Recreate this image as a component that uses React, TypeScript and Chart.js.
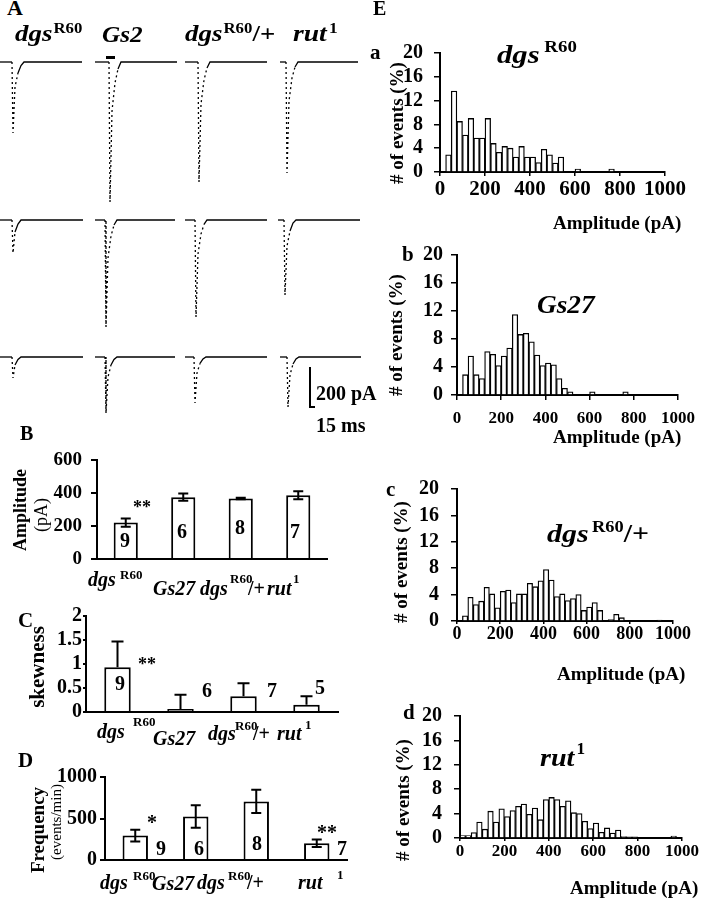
import React, { useEffect, useRef } from "react";
import { Chart, registerables } from "chart.js";

Chart.register(...registerables);

const SERIF = "'Liberation Serif', 'Times New Roman', Times, serif";

// ---------------- data ----------------
const groups = ["dgsR60", "Gs27", "dgsR60/+", "rut1"];

const amplitudeMean = [222, 376, 368, 388];
const amplitudeSem = [25, 22, 4, 25];
const amplitudeN = ["9", "6", "8", "7"];

const skewnessMean = [0.93, 0.06, 0.33, 0.15];
const skewnessSem = [0.54, 0.3, 0.27, 0.18];
const skewnessN = ["9", "6", "7", "5"];

const frequencyMean = [294, 524, 706, 202];
const frequencySem = [70, 135, 140, 45];
const frequencyN = ["9", "6", "8", "7"];

// amplitude histogram bins (pA, bin centers, 25 pA wide)
const binCenters = [
  12.5, 37.5, 62.5, 87.5, 112.5, 137.5, 162.5, 187.5, 212.5, 237.5,
  262.5, 287.5, 312.5, 337.5, 362.5, 387.5, 412.5, 437.5, 462.5, 487.5,
  512.5, 537.5, 562.5, 587.5, 612.5, 637.5, 662.5, 687.5, 712.5, 737.5,
  762.5, 787.5, 812.5, 837.5, 862.5, 887.5, 912.5, 937.5, 962.5, 987.5,
];
const histDgsR60 = [
  0, 2.9, 13.6, 8.5, 6.2, 9.0, 5.7, 5.7, 9.0, 4.8,
  3.3, 4.3, 4.0, 2.5, 4.3, 2.5, 2.5, 1.6, 3.8, 2.9,
  1.5, 2.5, 0, 0, 0.5, 0, 0, 0, 0, 0,
  0.5, 0, 0, 0, 0, 0, 0, 0, 0, 0,
];
const histGs27 = [
  0, 2.9, 5.55, 2.9, 2.35, 6.2, 5.8, 4.2, 5.55, 6.7,
  11.5, 8.65, 8.8, 7.6, 5.7, 4.2, 4.55, 4.3, 2.35, 0.95,
  0.45, 0, 0, 0, 0.45, 0, 0, 0, 0, 0,
  0.45, 0, 0, 0, 0, 0, 0, 0, 0, 0,
];
const histDgsHet = [
  0, 0.8, 3.6, 2.5, 3.0, 5.1, 4.1, 2.0, 4.5, 4.7,
  2.8, 4.1, 4.1, 5.7, 5.2, 6.1, 7.8, 6.2, 3.7, 4.1,
  3.1, 3.4, 4.0, 1.6, 2.1, 2.8, 1.6, 0, 0.2, 1.0,
  0.5, 0, 0, 0, 0, 0, 0, 0.15, 0, 0,
];
const histRut1 = [
  0.4, 0.4, 0.9, 2.6, 1.45, 4.4, 2.6, 4.8, 3.5, 4.5,
  5.2, 5.55, 3.9, 4.9, 3.0, 6.3, 6.65, 6.3, 5.2, 6.1,
  4.15, 4.0, 2.75, 1.55, 2.45, 0.95, 1.65, 0.8, 1.3, 0.25,
  0.2, 0.2, 0, 0, 0, 0, 0, 0, 0.3, 0,
];

// example current traces: [time ms, current pA]
const traceRow1 = [
  [[0, 0], [36, 0], [39, -355], [45, -125], [54, -55], [63, -18], [72, 0], [246, 0]],
  [[285, 0], [327, 0], [330, -700], [336, -245], [345, -105], [354, -35], [363, 0], [531, 0]],
  [[555, 0], [594, 0], [597, -600], [603, -210], [612, -90], [621, -30], [630, 0], [801, 0]],
  [[840, 0], [858, 0], [861, -555], [867, -195], [876, -80], [885, -25], [894, 0], [1074, 0]],
];
const traceRow2 = [
  [[0, 0], [36, 0], [39, -165], [45, -60], [54, -20], [63, 0], [249, 0]],
  [[285, 0], [315, 0], [318, -535], [324, -190], [333, -80], [342, -25], [351, 0], [525, 0]],
  [[555, 0], [585, 0], [588, -485], [594, -170], [603, -70], [612, -22], [621, 0], [801, 0]],
  [[834, 0], [852, 0], [855, -375], [861, -130], [870, -55], [879, -15], [888, 0], [1080, 0]],
];
const traceRow3 = [
  [[0, 0], [36, 0], [39, -105], [45, -40], [54, -12], [63, 0], [249, 0]],
  [[285, 0], [315, 0], [318, -280], [324, -100], [333, -40], [342, -12], [351, 0], [525, 0]],
  [[555, 0], [582, 0], [585, -230], [591, -80], [600, -32], [609, -10], [618, 0], [801, 0]],
  [[840, 0], [861, 0], [864, -250], [870, -90], [879, -35], [888, -10], [897, 0], [1083, 0]],
];
const scaleBarPA = 200;
const scaleBarMs = 15;
const scaleBarAnchor = { t: 930, i: -50 };

// ---------------- helpers ----------------
const errorBarPlugin = {
  id: "errorBars",
  afterDatasetsDraw(chart: any, _args: any, opts: any) {
    const meta = chart.getDatasetMeta(0);
    const ys = chart.scales.y;
    const ctx = chart.ctx;
    ctx.save();
    ctx.strokeStyle = "#000";
    ctx.lineWidth = 2;
    meta.data.forEach((bar: any, i: number) => {
      const m = opts.means[i];
      const s = opts.sems[i];
      const yT = ys.getPixelForValue(m + s);
      const yB = opts.both ? ys.getPixelForValue(m - s) : bar.y;
      const h = opts.cap / 2;
      ctx.beginPath();
      ctx.moveTo(bar.x, yT);
      ctx.lineTo(bar.x, yB);
      ctx.moveTo(bar.x - h, yT);
      ctx.lineTo(bar.x + h, yT);
      if (opts.both) {
        ctx.moveTo(bar.x - h, yB);
        ctx.lineTo(bar.x + h, yB);
      }
      ctx.stroke();
    });
    ctx.restore();
  },
};

function ChartCanvas({ box, build }: any) {
  const ref = useRef<HTMLCanvasElement>(null);
  useEffect(() => {
    const chart = new Chart(ref.current as HTMLCanvasElement, build());
    return () => chart.destroy();
  }, []);
  return (
    <canvas
      ref={ref}
      width={box.w}
      height={box.h}
      style={{ position: "absolute", left: box.x, top: box.y, width: box.w, height: box.h }}
    />
  );
}

const steepDash = (c: any) =>
  Math.abs(c.p1.y - c.p0.y) > 3 * Math.abs(c.p1.x - c.p0.x) ? [2, 3] : undefined;

function traceConfig(rows: number[][][], yMin: number, yMax: number, withScaleBar = false): any {
  const datasets: any[] = rows.map((pts) => ({
    data: pts.map(([x, y]) => ({ x, y })),
    borderColor: "#000",
    borderWidth: 1.3,
    pointRadius: 0,
    tension: 0,
    fill: false,
    segment: { borderDash: steepDash },
  }));
  if (withScaleBar) {
    datasets.push({
      data: [
        { x: scaleBarAnchor.t, y: scaleBarAnchor.i },
        { x: scaleBarAnchor.t, y: scaleBarAnchor.i - scaleBarPA },
        { x: scaleBarAnchor.t + scaleBarMs, y: scaleBarAnchor.i - scaleBarPA },
      ],
      borderColor: "#000",
      borderWidth: 2,
      pointRadius: 0,
      tension: 0,
      fill: false,
    });
  }
  return {
    type: "line",
    data: { datasets },
    options: {
      animation: false,
      responsive: false,
      events: [],
      layout: { padding: 0 },
      plugins: { legend: { display: false }, tooltip: { enabled: false } },
      scales: {
        x: { type: "linear", display: false, min: 0, max: 1095 },
        y: { display: false, min: yMin, max: yMax },
      },
    },
  };
}

function histConfig(values: number[], o: any): any {
  return {
    type: "bar",
    data: {
      datasets: [
        {
          data: binCenters.map((c, i) => ({ x: c, y: values[i] })),
          backgroundColor: "#ffffff",
          borderColor: "#000000",
          borderWidth: 1.3,
          borderSkipped: "start",
          barPercentage: 1,
          categoryPercentage: 1,
        },
      ],
    },
    options: {
      animation: false,
      responsive: false,
      events: [],
      layout: { padding: { top: o.padTop, right: o.padRight, left: 0, bottom: 0 } },
      plugins: { legend: { display: false }, tooltip: { enabled: false } },
      scales: {
        x: {
          type: "linear",
          min: 0,
          max: 1000,
          offset: false,
          grid: { display: true, drawOnChartArea: false, drawTicks: true, tickLength: o.xTl, color: "#000", lineWidth: 1.5, offset: false },
          border: { display: true, color: "#000", width: 2 },
          ticks: {
            stepSize: 200,
            padding: o.xPad,
            color: "#000",
            maxRotation: 0,
            autoSkip: false,
            font: { family: SERIF, size: o.xFont, weight: "bold" },
            callback: (v: any) => String(v),
          },
          afterFit: (s: any) => { s.height = o.xH; },
        },
        y: {
          min: 0,
          max: 20,
          grid: { display: true, drawOnChartArea: false, drawTicks: true, tickLength: 6, color: "#000", lineWidth: 1.5 },
          border: { display: true, color: "#000", width: 2 },
          ticks: {
            stepSize: 4,
            padding: o.yPad,
            color: "#000",
            autoSkip: false,
            font: { family: SERIF, size: 20, weight: "bold" },
            callback: (v: any) => String(v),
          },
          afterFit: (s: any) => { s.width = o.yW; },
        },
      },
    },
  };
}

function barConfig(means: number[], sems: number[], o: any): any {
  return {
    type: "bar",
    data: {
      labels: groups,
      datasets: [
        {
          data: means,
          backgroundColor: o.fills,
          borderColor: "#000",
          borderWidth: 2,
          borderSkipped: "start",
          barPercentage: 0.42,
          categoryPercentage: 1,
        },
      ],
    },
    options: {
      animation: false,
      responsive: false,
      events: [],
      layout: { padding: { top: o.padTop, right: o.padRight, left: 0, bottom: 0 } },
      plugins: {
        legend: { display: false },
        tooltip: { enabled: false },
        errorBars: { means, sems, both: o.both, cap: o.cap },
      },
      scales: {
        x: {
          grid: { display: false },
          border: { display: true, color: "#000", width: 2 },
          ticks: { display: false },
          afterFit: (s: any) => { s.height = o.xH; },
        },
        y: {
          min: 0,
          max: o.yMax,
          grid: { display: true, drawOnChartArea: false, drawTicks: true, tickLength: o.yTl, color: "#000", lineWidth: 2 },
          border: { display: true, color: "#000", width: 2 },
          ticks: {
            stepSize: o.yStep,
            padding: o.yPad,
            color: "#000",
            autoSkip: false,
            font: { family: SERIF, size: o.yFont, weight: "bold" },
            callback: (v: any) => String(v),
          },
          afterFit: (s: any) => { s.width = o.yW; },
        },
      },
    },
    plugins: [errorBarPlugin],
  };
}

function Txt({ x, b, size, it = false, w = "bold", align = "left", sx = 1, children }: any) {
  const style: any = {
    position: "absolute",
    left: x,
    top: b - 0.8375 * size,
    fontSize: size,
    lineHeight: 1,
    fontStyle: it ? "italic" : "normal",
    fontWeight: w,
    whiteSpace: "nowrap",
    fontFamily: SERIF,
  };
  if (align === "center") {
    style.transform = `translateX(-50%) scaleX(${sx})`;
    style.transformOrigin = "center";
  } else if (sx !== 1) {
    style.transform = `scaleX(${sx})`;
    style.transformOrigin = "left";
  }
  return <div style={style}>{children}</div>;
}

function Sup({ size, raise, gap = 0, children }: any) {
  return (
    <span style={{ fontSize: size, position: "relative", top: -raise, fontStyle: "normal", marginLeft: gap }}>
      {children}
    </span>
  );
}

function Rot({ cx, cy, size, w = "bold", children }: any) {
  return (
    <div
      style={{
        position: "absolute",
        left: cx,
        top: cy,
        fontSize: size,
        lineHeight: 1,
        fontWeight: w,
        whiteSpace: "nowrap",
        fontFamily: SERIF,
        transform: "translate(-50%,-50%) rotate(-90deg)",
      }}
    >
      {children}
    </div>
  );
}

// category labels under bar charts: [dgs R60], [Gs27], [dgs R60 /+], [rut 1]
function GroupLabels({ p }: any) {
  return (
    <>
      <Txt x={p.d1} b={p.b1} size={20} it>dgs</Txt>
      <Txt x={p.r1} b={p.s1} size={13}>R60</Txt>
      <Txt x={p.g} b={p.bg} size={20} it>Gs27</Txt>
      <Txt x={p.d3} b={p.b3} size={20} it>dgs</Txt>
      <Txt x={p.r3} b={p.s3} size={13}>R60</Txt>
      <Txt x={p.p3} b={p.b3} size={20}>/+</Txt>
      <Txt x={p.ru} b={p.b4} size={20} it>rut</Txt>
      <Txt x={p.one} b={p.s4} size={13}>1</Txt>
    </>
  );
}

export default function App() {
  return (
    <div
      style={{
        position: "absolute",
        left: 0,
        top: 0,
        width: 703,
        height: 900,
        background: "#fff",
        color: "#000",
        fontFamily: SERIF,
        overflow: "hidden",
      }}
    >
      {/* ---------- Panel A ---------- */}
      <ChartCanvas box={{ x: 0, y: 40, w: 365, h: 180 }} build={() => traceConfig(traceRow1, -790, 110)} />
      <ChartCanvas box={{ x: 0, y: 200, w: 365, h: 140 }} build={() => traceConfig(traceRow2, -600, 100)} />
      <ChartCanvas box={{ x: 0, y: 335, w: 365, h: 90 }} build={() => traceConfig(traceRow3, -340, 110, true)} />

      <Txt x={7} b={15} size={22}>A</Txt>
      <Txt x={15} b={41} size={24} it sx={1.12}>dgs<Sup size={15} raise={8} gap={1}>R60</Sup></Txt>
      <Txt x={102} b={42} size={24} it sx={1.05}>Gs2</Txt>
      <div style={{ position: "absolute", left: 106, top: 56, width: 9, height: 3, background: "#000" }} />
      <Txt x={185} b={41} size={24} it sx={1.12}>dgs<Sup size={15} raise={8} gap={1}>R60</Sup><span style={{ fontStyle: "normal" }}>/+</span></Txt>
      <Txt x={293} b={41} size={24} it sx={1.15}>rut<Sup size={15} raise={8} gap={2}>1</Sup></Txt>
      <Txt x={316} b={400} size={20}>200 pA</Txt>
      <Txt x={316} b={432} size={20}>15 ms</Txt>

      {/* ---------- Panel B ---------- */}
      <ChartCanvas
        box={{ x: 0, y: 440, w: 345, h: 160 }}
        build={() =>
          barConfig(amplitudeMean, amplitudeSem, {
            fills: ["#fff", "#fff", "#fff", "#fff"],
            both: true, cap: 10, yMax: 600, yStep: 200, yFont: 19, yTl: 6, yPad: 9,
            yW: 97, xH: 41, padTop: 20, padRight: 18,
          })
        }
      />
      <Txt x={20} b={440} size={20}>B</Txt>
      <Rot cx={20} cy={510} size={18}>Amplitude</Rot>
      <Rot cx={41} cy={515} size={18} w="normal">(pA)</Rot>
      <Txt x={125} b={547} size={20} align="center">{amplitudeN[0]}</Txt>
      <Txt x={182} b={538} size={20} align="center">{amplitudeN[1]}</Txt>
      <Txt x={240} b={534} size={20} align="center">{amplitudeN[2]}</Txt>
      <Txt x={295} b={538} size={20} align="center">{amplitudeN[3]}</Txt>
      <Txt x={142} b={513} size={18} align="center">**</Txt>
      <GroupLabels p={{ d1: 88, b1: 586, r1: 120, s1: 579, g: 153, bg: 595, d3: 200, b3: 595, r3: 230, s3: 583, p3: 248, ru: 267, b4: 595, one: 293, s4: 583 }} />

      {/* ---------- Panel C ---------- */}
      <ChartCanvas
        box={{ x: 0, y: 600, w: 350, h: 125 }}
        build={() =>
          barConfig(skewnessMean, skewnessSem, {
            fills: ["#fff", "#8a8a8a", "#fff", "#fff"],
            both: false, cap: 12, yMax: 2, yStep: 0.5, yFont: 20, yTl: 3, yPad: 1,
            yW: 86, xH: 13, padTop: 16, padRight: 12,
          })
        }
      />
      <Txt x={18} b={628} size={21}>C</Txt>
      <Rot cx={37} cy={667} size={21}>skewness</Rot>
      <Txt x={120} b={690} size={20} align="center">{skewnessN[0]}</Txt>
      <Txt x={147} b={670} size={18} align="center">**</Txt>
      <Txt x={207} b={697} size={20} align="center">{skewnessN[1]}</Txt>
      <Txt x={272} b={697} size={20} align="center">{skewnessN[2]}</Txt>
      <Txt x={320} b={694} size={20} align="center">{skewnessN[3]}</Txt>
      <GroupLabels p={{ d1: 97, b1: 738, r1: 133, s1: 726, g: 153, bg: 745, d3: 208, b3: 740, r3: 235, s3: 730, p3: 253, ru: 277, b4: 740, one: 305, s4: 729 }} />

      {/* ---------- Panel D ---------- */}
      <ChartCanvas
        box={{ x: 0, y: 762, w: 370, h: 113 }}
        build={() =>
          barConfig(frequencyMean, frequencySem, {
            fills: ["#fff", "#fff", "#fff", "#fff"],
            both: true, cap: 10, yMax: 1000, yStep: 500, yFont: 20, yTl: 5, yPad: 3,
            yW: 105, xH: 15, padTop: 15, padRight: 23,
          })
        }
      />
      <Txt x={18} b={768} size={21}>D</Txt>
      <Rot cx={37} cy={830} size={19}>Frequency</Rot>
      <Rot cx={56} cy={822} size={15} w="normal">(events/min)</Rot>
      <Txt x={152} b={829} size={20} align="center">*</Txt>
      <Txt x={161} b={855} size={20} align="center">{frequencyN[0]}</Txt>
      <Txt x={199} b={855} size={20} align="center">{frequencyN[1]}</Txt>
      <Txt x={257} b={850} size={20} align="center">{frequencyN[2]}</Txt>
      <Txt x={327} b={839} size={20} align="center">**</Txt>
      <Txt x={342} b={855} size={20} align="center">{frequencyN[3]}</Txt>
      <GroupLabels p={{ d1: 100, b1: 889, r1: 133, s1: 880, g: 152, bg: 890, d3: 197, b3: 889, r3: 228, s3: 880, p3: 247, ru: 298, b4: 889, one: 337, s4: 879 }} />

      {/* ---------- Panel E ---------- */}
      <Txt x={373} b={15} size={20}>E</Txt>

      <ChartCanvas
        box={{ x: 360, y: 30, w: 343, h: 175 }}
        build={() => histConfig(histDgsR60, { yW: 80, xH: 33, padTop: 16, padRight: 38, xFont: 21, xTl: 4, xPad: 1, yPad: 11 })}
      />
      <Txt x={370} b={60} size={21}>a</Txt>
      <Rot cx={396} cy={123} size={19}># of events (%)</Rot>
      <Txt x={497} b={64} size={26} it sx={1.18}>dgs<Sup size={16} raise={11} gap={4}>R60</Sup></Txt>
      <Txt x={553} b={229} size={19}>Amplitude (pA)</Txt>

      <ChartCanvas
        box={{ x: 380, y: 235, w: 323, h: 190 }}
        build={() => histConfig(histGs27, { yW: 77, xH: 30, padTop: 18, padRight: 25, xFont: 17, xTl: 5, xPad: 8, yPad: 8 })}
      />
      <Txt x={402} b={262} size={21}>b</Txt>
      <Rot cx={395} cy={335} size={19}># of events (%)</Rot>
      <Txt x={537} b={314} size={26} it sx={1.05}>Gs27</Txt>
      <Txt x={553} b={443} size={19}>Amplitude (pA)</Txt>

      <ChartCanvas
        box={{ x: 380, y: 465, w: 323, h: 185 }}
        build={() => histConfig(histDgsHet, { yW: 77, xH: 29, padTop: 18, padRight: 30, xFont: 18, xTl: 3, xPad: 0, yPad: 12 })}
      />
      <Txt x={386} b={497} size={21}>c</Txt>
      <Rot cx={400} cy={562} size={19}># of events (%)</Rot>
      <Txt x={547} b={543} size={26} it sx={1.15}>dgs<Sup size={16} raise={10} gap={3}>R60</Sup><span style={{ fontStyle: "normal" }}>/+</span></Txt>
      <Txt x={557} b={680} size={19}>Amplitude (pA)</Txt>

      <ChartCanvas
        box={{ x: 380, y: 692, w: 323, h: 175 }}
        build={() => histConfig(histRut1, { yW: 80, xH: 29, padTop: 18, padRight: 21, xFont: 17, xTl: 3, xPad: 0, yPad: 12 })}
      />
      <Txt x={403} b={720} size={21}>d</Txt>
      <Rot cx={402} cy={800} size={19}># of events (%)</Rot>
      <Txt x={540} b={767} size={26} it sx={1.08}>rut<Sup size={16} raise={12} gap={2}>1</Sup></Txt>
      <Txt x={570} b={894} size={19}>Amplitude (pA)</Txt>
    </div>
  );
}
